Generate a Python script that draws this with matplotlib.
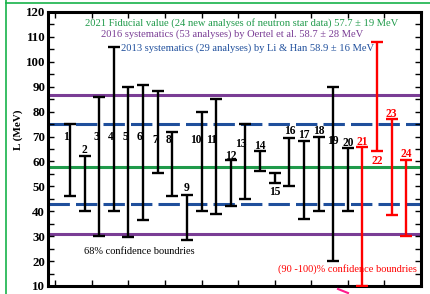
import matplotlib
matplotlib.use("Agg")
import matplotlib.pyplot as plt
from matplotlib.lines import Line2D
import numpy as np

# analyses 1-20: 68% confidence, 21-24: (90-100)% confidence
idx = np.arange(1, 25)
low = [46, 40, 30, 40, 29.5, 36.5, 55.5, 46, 28.5, 40, 39, 42,
       45, 56, 51.5, 50, 37, 40, 20, 40, 10, 64, 38.5, 30]
high = [75, 62, 86, 106, 90, 90.5, 88.3, 71.8, 46.6, 80, 85, 60.4,
        75, 64.3, 55.5, 69.5, 68.4, 70, 90, 65.5, 66, 108, 77, 60.4]
labels = [str(i) for i in idx]

fid, fid_err = 57.7, 19
oer, oer_err = 58.7, 28
lh, lh_err = 58.9, 16

# label anchor heights (layout)
lab_y = [70, 64.4, 70, 70, 70, 70, 68.5, 68.5, 49.3, 68.5, 68.5, 62.1,
         67.1, 66.2, 47.7, 72.1, 70.5, 72.2, 68.2, 67.4, 67.7, 60.1, 78.9, 62.8]
lab_dx = [-0.3, 0, -0.2, -0.2, -0.2, -0.25, -0.2, -0.25, 0, -0.4, -0.3, 0,
          -0.35, 0, 0, 0, 0, 0, 0, 0, 0, 0, 0, 0]

plt.rcParams['font.family'] = ['Liberation Serif', 'DejaVu Serif']

fig = plt.figure(figsize=(4.3, 2.94), dpi=100)
ax = fig.add_axes([48/430, 1-286/294, 373/430, 274/294])

green = '#1f9a4a'
purple = '#7a3d95'
blue = '#1f4f9c'

ax.axhline(fid, color=green, lw=2.2, zorder=1)
ax.axhline(oer + oer_err, color=purple, lw=2.2, zorder=1)
ax.axhline(oer - oer_err, color=purple, lw=2.2, zorder=1)
ax.axhline(lh + lh_err, color=blue, lw=2.2, dashes=(7, 2), zorder=1)
ax.axhline(lh - lh_err, color=blue, lw=2.2, dashes=(7, 2), zorder=1)

for i in range(len(idx)):
    c = 'black' if i < 20 else 'red'
    mid = (low[i] + high[i]) / 2
    ax.errorbar(idx[i], mid, yerr=(high[i] - low[i]) / 2, fmt='none',
                ecolor=c, elinewidth=1.7, capsize=4, capthick=1.7, zorder=3)
    ax.text(idx[i] + lab_dx[i], lab_y[i], labels[i], color=c, fontsize=8.3,
            fontweight='bold', ha='center', va='center', zorder=4)

ax.text(0.519, 0.961, '2021 Fiducial value (24 new analyses of neutron star data) 57.7 ± 19 MeV',
        transform=ax.transAxes, color=green, fontsize=7.6,
        ha='center', va='center')
ax.text(0.493, 0.920, '2016 systematics (53 analyses) by Oertel et al. 58.7 ± 28 MeV',
        transform=ax.transAxes, color=purple, fontsize=7.6,
        ha='center', va='center')
ax.text(0.534, 0.869, '2013 systematics (29 analyses) by Li & Han 58.9 ± 16 MeV',
        transform=ax.transAxes, color=blue, fontsize=7.6,
        ha='center', va='center')
ax.text(0.244, 0.125, '68% confidence boundries', transform=ax.transAxes,
        color='black', fontsize=7.5, ha='center', va='center')
ax.text(0.802, 0.062, '(90 -100)% confidence boundries', transform=ax.transAxes,
        color='red', fontsize=7.5, ha='center', va='center')

ax.set_xlim(-0.5, 25)
ax.set_ylim(10, 120)
ax.set_xticks(np.arange(0, 25, 2.5))
ax.set_xticklabels([])
ax.set_yticks(np.arange(10, 121, 10))
ax.set_yticks(np.arange(15, 120, 10), minor=True)
ax.tick_params(which='both', direction='in', top=True, right=True, length=4,
               width=1, labelsize=9.3)
for t in ax.get_yticklabels():
    t.set_fontweight('bold')
ax.tick_params(axis='y', pad=2)
for s in ax.spines.values():
    s.set_linewidth(2.2)
ax.set_ylabel('L (MeV)', fontsize=8, fontweight='bold', labelpad=4)
ax.yaxis.set_label_coords(-0.068, 0.57)

# figure frame and stray mark
fig.add_artist(Line2D([6/430, 6/430], [0, 1], color='#18b34a', lw=1.2))
fig.add_artist(Line2D([6/430, 1], [1-3/294, 1-3/294], color='#18b34a', lw=1.2))
fig.add_artist(Line2D([338/430, 348/430], [1-289/294, 1-293/294], color='#ff1a8c', lw=1.5))

fig.savefig('out.png', dpi=100)
